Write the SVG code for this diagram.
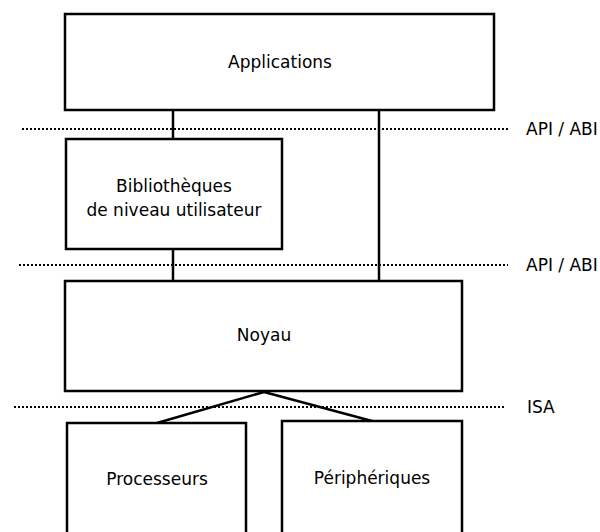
<svg xmlns="http://www.w3.org/2000/svg" width="600" height="532" viewBox="0 0 600 532">
<style>
.box{fill:#fff;stroke:#000;stroke-width:2.5}
.dot{stroke:#000;stroke-width:2;stroke-dasharray:2,2;fill:none}
.ln{stroke:#000;stroke-width:2.5;fill:none}
text{font-family:"DejaVu Sans",sans-serif;font-size:17px;fill:#000;text-anchor:middle}
.lab{text-anchor:start}
</style>
<rect width="600" height="532" fill="#fff"/>
<g id="separators">
<line class="dot" x1="22" y1="129" x2="508" y2="129"/>
<text class="lab" x="526" y="135">API / ABI</text>
<line class="dot" x1="19" y1="265" x2="508" y2="265"/>
<text class="lab" x="526" y="271">API / ABI</text>
<line class="dot" x1="14" y1="407" x2="504" y2="407"/>
<text class="lab" x="527" y="413">ISA</text>
</g>
<g id="connectors">
<line class="ln" x1="173" y1="110" x2="173" y2="139"/>
<line class="ln" x1="173" y1="249" x2="173" y2="281"/>
<line class="ln" x1="379" y1="110" x2="379" y2="281"/>
<line class="ln" x1="264" y1="392" x2="157" y2="423"/>
<line class="ln" x1="264" y1="392" x2="372" y2="421"/>
</g>
<g id="applications">
<rect class="box" x="65" y="14" width="429" height="96"/>
<text x="280" y="68">Applications</text>
</g>
<g id="bibliotheques">
<rect class="box" x="66" y="139" width="216" height="110"/>
<text x="174" y="192">Bibliothèques</text>
<text x="174" y="216">de niveau utilisateur</text>
</g>
<g id="noyau">
<rect class="box" x="65" y="281" width="397" height="110"/>
<text x="264" y="341">Noyau</text>
</g>
<g id="processeurs">
<path class="box" d="M67,540 V423 H246 V540"/>
<text x="157" y="485">Processeurs</text>
</g>
<g id="peripheriques">
<path class="box" d="M282,540 V421 H462 V540"/>
<text x="372" y="484">Périphériques</text>
</g>
</svg>
